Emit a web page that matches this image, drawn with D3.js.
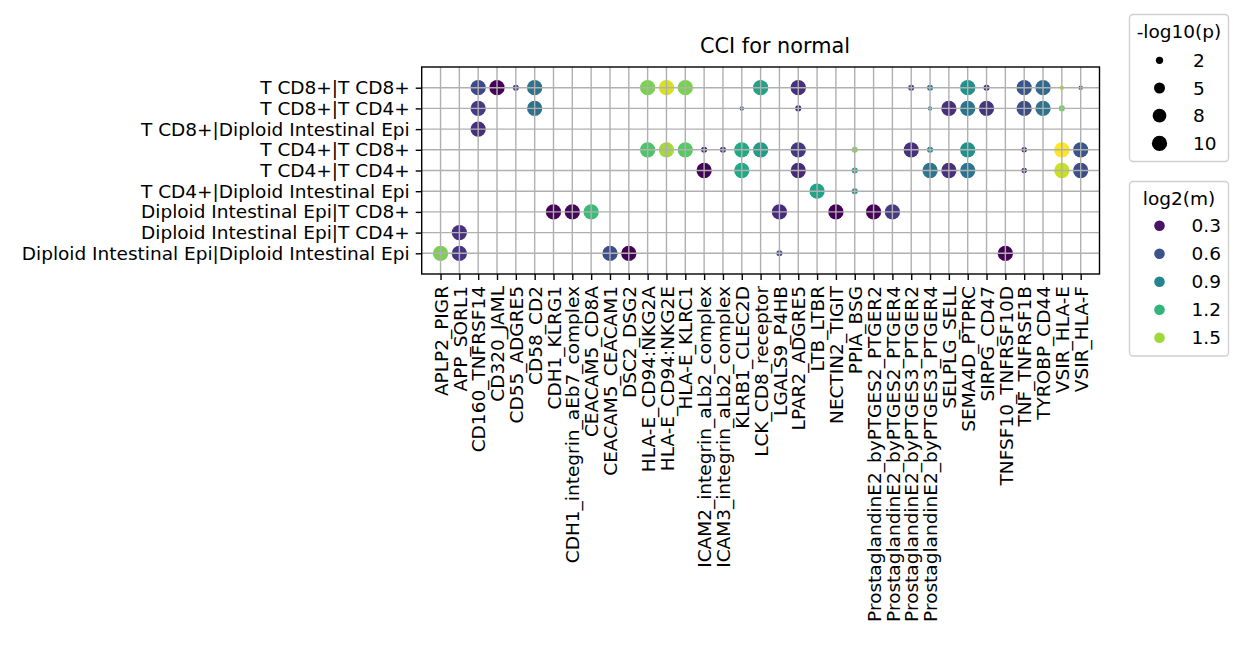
<!DOCTYPE html>
<html><head><meta charset="utf-8">
<script src="https://cdn.jsdelivr.net/npm/d3@7"></script>
<style>
body{margin:0;background:#fff}
text{font-family:"DejaVu Sans",sans-serif;fill:#000}
</style>
</head><body>
<svg id="c" width="1243" height="646"></svg>
<script>
const chartTitle = "CCI for normal";
const cellPairs = [
  "T CD8+|T CD8+","T CD8+|T CD4+","T CD8+|Diploid Intestinal Epi",
  "T CD4+|T CD8+","T CD4+|T CD4+","T CD4+|Diploid Intestinal Epi",
  "Diploid Intestinal Epi|T CD8+","Diploid Intestinal Epi|T CD4+",
  "Diploid Intestinal Epi|Diploid Intestinal Epi"
];
const interactions = [
  "APLP2_PIGR","APP_SORL1","CD160_TNFRSF14","CD320_JAML","CD55_ADGRE5","CD58_CD2",
  "CDH1_KLRG1","CDH1_integrin_aEb7_complex","CEACAM5_CD8A","CEACAM5_CEACAM1","DSC2_DSG2",
  "HLA-E_CD94:NKG2A","HLA-E_CD94:NKG2E","HLA-E_KLRC1","ICAM2_integrin_aLb2_complex",
  "ICAM3_integrin_aLb2_complex","KLRB1_CLEC2D","LCK_CD8_receptor","LGALS9_P4HB",
  "LPAR2_ADGRE5","LTB_LTBR","NECTIN2_TIGIT","PPIA_BSG",
  "ProstaglandinE2_byPTGES2_PTGER2","ProstaglandinE2_byPTGES2_PTGER4",
  "ProstaglandinE2_byPTGES3_PTGER2","ProstaglandinE2_byPTGES3_PTGER4",
  "SELPLG_SELL","SEMA4D_PTPRC","SIRPG_CD47","TNFSF10_TNFRSF10D","TNF_TNFRSF1B",
  "TYROBP_CD44","VSIR_HLA-E","VSIR_HLA-F"
];
// [cell pair index, interaction index, -log10(p), log2(m)]
const dots = [
  [0,2,10,0.55],[0,3,10,0.23],[0,4,1.3,0.52],[0,5,10,0.79],[0,11,10,1.42],[0,12,10,1.63],
  [0,13,10,1.42],[0,17,10,1.09],[0,19,10,0.42],[0,25,1.3,0.52],[0,26,1.3,0.82],[0,28,10,0.97],
  [0,29,1.3,0.4],[0,31,10,0.62],[0,32,10,0.72],[0,33,0.5,1.57],[0,34,0.5,0.49],
  [1,2,10,0.48],[1,5,10,0.78],[1,16,0.5,0.62],[1,19,1.3,0.4],[1,26,0.5,0.9],[1,27,10,0.42],
  [1,28,10,0.79],[1,29,10,0.45],[1,31,10,0.57],[1,32,10,0.79],[1,33,1.3,1.39],
  [2,2,10,0.42],
  [3,11,10,1.3],[3,12,10,1.51],[3,13,10,1.33],[3,14,1.3,0.37],[3,15,1.3,0.48],[3,16,10,1.12],
  [3,17,10,1.05],[3,19,10,0.46],[3,22,1.3,1.45],[3,25,10,0.43],[3,26,1.3,0.9],[3,28,10,0.97],
  [3,31,1.0,0.37],[3,33,10,1.72],[3,34,10,0.62],
  [4,14,10,0.23],[4,16,10,1.12],[4,19,10,0.4],[4,22,1.3,1.09],[4,26,10,0.79],[4,27,10,0.42],
  [4,28,10,0.79],[4,31,1.0,0.37],[4,33,10,1.6],[4,34,10,0.57],
  [5,20,10,1.09],[5,22,1.3,1.0],
  [6,6,10,0.23],[6,7,10,0.25],[6,8,10,1.24],[6,18,10,0.4],[6,21,10,0.23],[6,23,10,0.23],[6,24,10,0.48],
  [7,1,10,0.42],
  [8,0,10,1.42],[8,1,10,0.45],[8,9,10,0.57],[8,10,10,0.23],[8,18,1.3,0.52],[8,30,10,0.23]
];
const sizeLegendTitle = "-log10(p)";
const sizeLegendValues = [2,5,8,10];
const colorLegendTitle = "log2(m)";
const colorLegendValues = [0.3,0.6,0.9,1.2,1.5];

const svg = d3.select("#c");
const L = 421.7, R = 1099.5, T = 67, B = 274;
const FS = 18.5;

const x = d3.scalePoint().domain(interactions).range([L, R]).padding(1);
const y = d3.scalePoint().domain(cellPairs).range([T, B]).padding(1);
const color = d3.scaleSequential(d3.interpolateViridis).domain([0.22, 1.72]);
const area = d3.scaleLinear().domain([0, 10]).range([7.8, 234]);
const rad = v => Math.sqrt(Math.max(area(v), 1)) / 2;

// dots
svg.append("g").selectAll("circle").data(dots).join("circle")
  .attr("cx", d => x(interactions[d[1]]))
  .attr("cy", d => y(cellPairs[d[0]]))
  .attr("r", d => rad(d[2]))
  .attr("fill", d => color(d[3]));

// grid on top
const grid = svg.append("g").attr("stroke", "#b0b0b0").attr("stroke-width", 1.4);
grid.selectAll("line.v").data(interactions).join("line").attr("class","v")
  .attr("x1", d => x(d)).attr("x2", d => x(d)).attr("y1", T).attr("y2", B);
grid.selectAll("line.h").data(cellPairs).join("line").attr("class","h")
  .attr("y1", d => y(d)).attr("y2", d => y(d)).attr("x1", L).attr("x2", R);

// axes
const xAxis = d3.axisBottom(x).tickSizeInner(6).tickSizeOuter(0).tickPadding(6);
const gx = svg.append("g").attr("transform", `translate(0,${B})`).call(xAxis);
gx.select(".domain").remove();
gx.selectAll("line").attr("stroke", "#000").attr("stroke-width", 1.4);
gx.selectAll("text")
  .attr("font-size", FS).attr("font-family", "DejaVu Sans")
  .attr("text-anchor", "end")
  .attr("transform", "rotate(-90)")
  .attr("x", -12).attr("y", 0).attr("dy", "0.36em");

const yAxis = d3.axisLeft(y).tickSizeInner(6).tickSizeOuter(0).tickPadding(6);
const gy = svg.append("g").attr("transform", `translate(${L},0)`).call(yAxis);
gy.select(".domain").remove();
gy.selectAll("line").attr("stroke", "#000").attr("stroke-width", 1.4);
gy.selectAll("text").attr("font-size", FS).attr("font-family", "DejaVu Sans");

// frame
svg.append("rect").attr("x", L).attr("y", T).attr("width", R - L).attr("height", B - T)
  .attr("fill", "none").attr("stroke", "#000").attr("stroke-width", 1.4);

// title
svg.append("text").attr("x", 775).attr("y", 53).attr("text-anchor", "middle")
  .attr("font-size", 20.8).text(chartTitle);

// legends
function legendBox(top, bottom) {
  svg.append("rect").attr("x", 1129.5).attr("y", top).attr("width", 99).attr("height", bottom - top)
    .attr("rx", 3.5).attr("fill", "#fff").attr("fill-opacity", 0.8)
    .attr("stroke", "#d0d0d0").attr("stroke-width", 1.4);
}
legendBox(14.5, 161.5);
svg.append("text").attr("x", 1179).attr("y", 38).attr("text-anchor", "middle")
  .attr("font-size", FS).text(sizeLegendTitle);
const ls = svg.append("g").selectAll("g").data(sizeLegendValues).join("g")
  .attr("transform", (d, i) => `translate(0,${60.3 + i * 27.7})`);
ls.append("circle").attr("cx", 1159.5).attr("cy", 0).attr("r", d => rad(d)).attr("fill", "#000");
ls.append("text").attr("x", 1193).attr("dy", "0.36em").attr("font-size", FS).text(d => d);

legendBox(181.5, 356);
svg.append("text").attr("x", 1179).attr("y", 205).attr("text-anchor", "middle")
  .attr("font-size", FS).text(colorLegendTitle);
const lc = svg.append("g").selectAll("g").data(colorLegendValues).join("g")
  .attr("transform", (d, i) => `translate(0,${225.7 + i * 28})`);
lc.append("circle").attr("cx", 1159.5).attr("cy", 0).attr("r", 5.3).attr("fill", d => color(d));
lc.append("text").attr("x", 1191.5).attr("dy", "0.36em").attr("font-size", FS).text(d => d.toFixed(1));
</script>
</body></html>
